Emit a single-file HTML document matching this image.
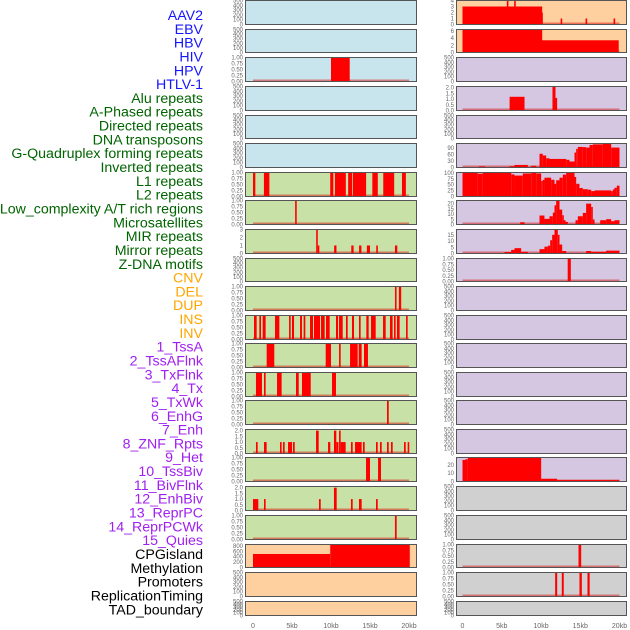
<!DOCTYPE html>
<html><head><meta charset="utf-8"><style>
html,body{margin:0;padding:0;background:#fff;}
svg{display:block;font-family:"Liberation Sans",sans-serif;}
</style></head><body>
<svg id="chart" width="630" height="630" viewBox="0 0 630 630" xmlns="http://www.w3.org/2000/svg"></svg>
<script>
// ---------- data ----------
const trackLabels = ["AAV2","EBV","HBV","HIV","HPV","HTLV-1","Alu repeats","A-Phased repeats","Directed repeats","DNA transposons","G-Quadruplex forming repeats","Inverted repeats","L1 repeats","L2 repeats","Low_complexity A/T rich regions","Microsatellites","MIR repeats","Mirror repeats","Z-DNA motifs","CNV","DEL","DUP","INS","INV","1_TssA","2_TssAFlnk","3_TxFlnk","4_Tx","5_TxWk","6_EnhG","7_Enh","8_ZNF_Rpts","9_Het","10_TssBiv","11_BivFlnk","12_EnhBiv","13_ReprPC","14_ReprPCWk","15_Quies","CPGisland","Methylation","Promoters","ReplicationTiming","TAD_boundary"];
const labelGroups = ["v","v","v","v","v","v","r","r","r","r","r","r","r","r","r","r","r","r","r","s","s","s","s","s","c","c","c","c","c","c","c","c","c","c","c","c","c","c","c","o","o","o","o","o"];
const xTickLabels = ["0","5kb","10kb","15kb","20kb"];
const xTickValues = [0,5,10,15,20];

// segments: [startKb, endKb, value]
const L3 = [[10.0,12.4,1]];
const L7 = [[0,0.3,1],[1.4,2.1,1],[9.9,10.3,1],[10.5,11.9,1],[12.2,12.7,1],[12.8,14.5,1],[15.3,16.0,1],[16.7,18.1,1],[19.1,19.6,1]];
const L8 = [[5.4,5.6,1]];
const L9 = [[8.1,8.3,3],[8.3,8.4,1],[10.4,10.7,1],[12.6,12.9,1],[13.6,13.9,1],[14.6,15.0,1],[15.8,16.0,1],[18.2,18.5,1]];
const L11 = [[18.2,18.4,1],[18.7,19.0,1]];
const L12 = [[0.13,0.47,1],[0.81,1.03,1],[1.24,1.62,1],[2.82,3.38,1],[4.62,4.83,1],[5.0,5.26,1],[6.03,6.28,1],[6.49,6.71,1],[7.31,7.69,1],[7.82,8.59,1],[8.72,9.19,1],[9.36,9.83,1],[10.64,10.9,1],[11.03,11.5,1],[11.92,12.14,1],[12.69,12.95,1],[13.59,13.8,1],[14.53,14.83,1],[15.13,15.73,1],[16.67,17.01,1],[17.56,17.9,1],[18.08,18.29,1],[18.46,18.8,1],[19.62,19.83,1]];
const L13 = [[1.75,2.73,1],[9.32,10.0,1],[11.03,11.24,1],[12.44,13.42,1],[13.55,13.93,1],[14.23,14.74,1]];
const L14 = [[0.38,1.15,1],[1.41,1.62,1],[3.08,3.67,1],[5.51,5.86,1],[6.28,7.4,1],[10.13,10.64,1]];
const L15 = [[17.18,17.4,1]];
const L16 = [[0.38,0.6,1],[1.41,1.75,1],[3.46,3.67,1],[3.85,4.06,1],[4.49,5.0,1],[5.13,5.35,1],[8.08,8.42,2],[9.62,9.91,1],[10.38,10.68,2],[10.68,10.95,1],[11.03,11.24,2],[11.24,11.88,1],[12.56,12.78,1],[13.08,13.93,1],[14.1,14.32,1],[15.77,15.99,1],[16.28,16.5,1],[17.18,17.4,1],[17.69,17.91,1],[19.36,19.58,1],[19.83,20.0,1]];
const L17 = [[14.49,15.0,1],[16.03,16.41,1]];
const L18 = [[0,0.68,1],[1.41,1.62,1],[8.46,8.68,1],[10.38,10.73,2],[12.56,12.78,1],[13.59,13.93,1],[15.77,15.99,1]];
const L19 = [[18.2,18.42,1]];
const L20 = [[0,9.9,500],[9.9,20.1,840]];
const R1 = [[0,10.15,3],[5.65,5.82,4.2],[6.58,6.75,4.2],[10.03,10.2,2],[12.5,12.7,1],[15.67,15.88,1],[19.24,19.45,1]];
const R2 = [[0,10.15,6.3],[10.03,19.9,3.4]];
const R4 = [[6.0,7.9,1.2],[11.46,11.85,2.2],[11.85,11.95,1.1]];
const R6 = [[0,2.08,1],[2.08,2.89,5],[2.89,5.99,1],[5.99,6.62,6],[6.62,8.32,12],[8.32,8.75,1],[8.75,9.38,8],[9.38,9.81,3],[9.81,10.23,64],[10.23,10.66,56],[10.66,11.08,43],[11.08,13.21,40],[13.21,13.63,36],[13.63,14.27,28],[14.27,14.48,70],[14.48,14.69,87],[14.69,15.33,96],[15.33,15.75,95],[15.75,16.18,93],[16.18,16.6,105],[16.6,17.88,108],[17.88,18.94,112],[18.94,20,93]];
const R7 = [[0,1.93,100],[1.93,2.59,97],[2.59,6.2,100],[6.2,6.62,94],[6.62,7.68,89],[7.68,8.75,98],[8.75,9.38,100],[9.38,10.02,98],[10.02,10.23,66],[10.23,10.44,71],[10.44,11.29,80],[11.29,11.72,71],[11.72,11.93,54],[11.93,12.36,69],[12.36,12.78,80],[12.78,13.21,93],[13.21,14.27,100],[14.27,14.48,83],[14.48,14.9,54],[14.9,15.33,36],[15.33,15.97,31],[15.97,16.39,29],[16.39,16.82,23],[16.82,18.94,26],[18.94,19.15,23],[19.15,19.36,30],[19.36,19.66,37],[19.66,20,46]];
const R8 = [[7.35,7.9,2.2],[9.81,10.44,8.6],[10.44,11.08,5.4],[11.08,11.51,7.9],[11.51,11.72,11.4],[11.72,11.93,18.4],[11.93,12.36,23],[12.36,12.7,14.3],[12.7,12.87,8.9],[12.87,13.12,4.1],[13.12,13.42,2.5],[14.4,14.69,4.1],[14.69,15.33,7.9],[15.33,15.75,11.1],[15.75,16.39,20],[16.39,16.6,16.8],[16.6,16.82,4.8],[17.54,18.3,4.1],[18.3,18.94,5.1],[18.94,19.36,3.2],[19.36,20,4.1]];
const R9 = [[5.35,6.2,1.2],[6.2,6.62,2.9],[6.62,7.47,4.3],[7.47,8.32,1.4],[9.81,10.44,3.5],[10.44,10.87,5.5],[10.87,11.17,6.3],[11.17,11.42,10.7],[11.42,11.72,15],[11.72,12.14,19.3],[12.14,12.36,15],[12.36,12.7,7.2],[12.7,13.21,2],[15.75,16.39,2],[16.39,18.3,1.4],[18.3,20,2.3]];
const R10 = [[13.4,13.8,1]];
const R17 = [[0,0.38,25.8],[0.38,0.68,26.7],[0.68,10.02,28.75],[10.02,12.06,3.3],[12.06,20,1.7]];
const R20 = [[14.78,15.12,1]];
const R21 = [[11.8,12.06,1],[12.65,12.9,1],[14.9,15.2,1],[15.92,16.2,1]];

// ---------- layout ----------
const rowTops = [0,29,57,86,115,143,172,200,229,258,286,315,343,372,400,429,457,486,515,544,572,601];
const rowBottoms = [25,53,82,111,139,168,197,225,254,282,311,340,368,397,425,454,482,511,540,568,597,616];
const BLUE="#c8e4ec", GREEN="#c8e1a6", PEACH="#ffd09f", LAV="#d5c6e2", GRAY="#d0d0d0";
const E500 = {ymax:500, ticks:[0,100,200,300,400,500], fmt:v=>String(v)};
const U1 = {ymax:1.0, ticks:[0,0.25,0.5,0.75,1], fmt:v=>v.toFixed(2)};
const U2 = {ymax:2.1, ticks:[0,0.5,1,1.5,2], fmt:v=>v.toFixed(1)};
const leftPanels = [
 [BLUE,E500,null],[BLUE,E500,null],[BLUE,U1,L3],[BLUE,E500,null],[BLUE,E500,null],
 [BLUE,E500,null],[GREEN,U1,L7],[GREEN,U1,L8],[GREEN,{ymax:3,ticks:[0,1,2,3],fmt:v=>String(v)},L9],[GREEN,E500,null],
 [GREEN,U1,L11],[GREEN,U1,L12],[GREEN,U1,L13],[GREEN,U1,L14],[GREEN,U1,L15],
 [GREEN,U2,L16],[GREEN,U1,L17],[GREEN,U2,L18],[GREEN,U1,L19],[PEACH,{ymax:850,ticks:[0,200,400,600,800],fmt:v=>String(v)},L20],
 [PEACH,E500,null],[PEACH,E500,null]];
const rightPanels = [
 [PEACH,{ymax:4.0,ticks:[0,1,2,3,4],fmt:v=>String(v)},R1],[PEACH,{ymax:6.4,ticks:[0,2,4,6],fmt:v=>String(v)},R2],[LAV,E500,null],[LAV,U2,R4],[LAV,E500,null],
 [LAV,{ymax:112,ticks:[0,30,60,90],fmt:v=>String(v)},R6],[LAV,{ymax:102,ticks:[0,25,50,75,100],fmt:v=>String(v)},R7],[LAV,{ymax:23,ticks:[0,5,10,15,20],fmt:v=>String(v)},R8],[LAV,{ymax:19.3,ticks:[0,5,10,15],fmt:v=>String(v)},R9],[LAV,U1,R10],
 [LAV,E500,null],[LAV,E500,null],[LAV,E500,null],[LAV,E500,null],[LAV,E500,null],
 [LAV,E500,null],[LAV,{ymax:28.75,ticks:[0,10,20],fmt:v=>String(v)},R17],[GRAY,E500,null],[GRAY,E500,null],[GRAY,U1,R20],
 [GRAY,U1,R21],[GRAY,E500,null]];

const NS="http://www.w3.org/2000/svg";
const svg=document.getElementById('chart');
function mk(tag,attrs,parent){const e=document.createElementNS(NS,tag);for(const k in attrs)e.setAttribute(k,attrs[k]);(parent||svg).appendChild(e);return e;}
const cols=[{x0:245,x1:417,sx:kb=>253+kb*7.8,tickX:243,name:'left'},{x0:456,x1:627,sx:kb=>462.5+kb*7.85,tickX:454,name:'right'}];
const labelColors={v:"#1515ff",r:"#006400",s:"#ffa500",c:"#a020f0",o:"#000000"};

// labels
trackLabels.forEach((t,i)=>{
  const y=15+i*13.82;
  const el=mk('text',{x:203,y:y+5,'text-anchor':'end','font-size':'14.2',fill:labelColors[labelGroups[i]]});
  el.textContent=t;
  
  
});

[leftPanels,rightPanels].forEach((panels,ci)=>{
  const c=cols[ci];
  panels.forEach((p,ri)=>{
    const [bg,ax,segs]=p;
    const top=rowTops[ri], bot=rowBottoms[ri];
    const g=mk('g',{});
    
    
    mk('rect',{x:c.x0,y:top,width:c.x1-c.x0,height:bot-top,fill:bg},g);
    const h=bot-top-1;
    const sy=v=>bot-0.5-Math.min(v,ax.ymax)/ax.ymax*h;
    if(segs){
      const bl=mk('line',{x1:c.sx(0),x2:c.sx(20),y1:bot-1.5,y2:bot-1.5,stroke:'rgba(220,0,0,0.45)','stroke-width':2},g);
      
      
      segs.forEach(s=>{
        const x=c.sx(s[0]), w=Math.max(c.sx(s[1])-x,1.6), y=sy(s[2]);
        const r=mk('rect',{x:x,y:y,width:w,height:bot-0.5-y,fill:'#ff0000'},g);
        
        
      });
    }
    const fr=mk('rect',{x:c.x0+0.5,y:top+0.5,width:c.x1-c.x0-1,height:bot-top-1,fill:'none',stroke:'#555','stroke-width':1},g);
    
    
    ax.ticks.forEach(v=>{
      const t=mk('text',{x:c.tickX,y:sy(v)+2,'text-anchor':'end','font-size':'6',fill:'#666'},g);
      t.textContent=ax.fmt(v);
      
      
    });
  });
  xTickValues.forEach((v,i)=>{
    const t=mk('text',{x:c.sx(v),y:628,'text-anchor':'middle','font-size':'7',fill:'#666'});
    t.textContent=xTickLabels[i];
    
    
  });
});
</script>
</body></html>
